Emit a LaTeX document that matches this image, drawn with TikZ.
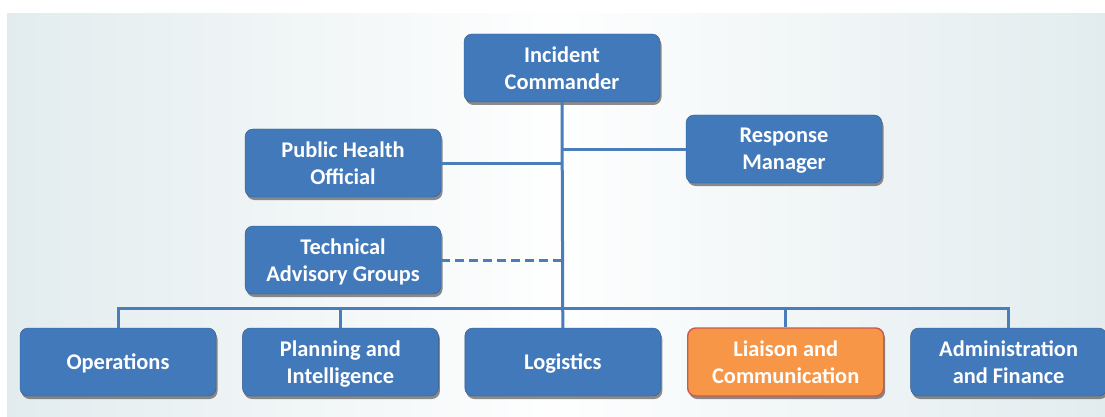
\documentclass[tikz,border=0pt]{standalone}
\usepackage{fontspec}
\setmainfont{Carlito}
\usepackage{xcolor}
\usepackage{tikz}
\usetikzlibrary{positioning,shadows}

\definecolor{boxblue}{RGB}{66,121,187}
\definecolor{lineblue}{RGB}{74,126,187}
\definecolor{boxorange}{RGB}{247,150,70}
\definecolor{edgered}{RGB}{200,90,80}
\definecolor{panelside}{RGB}{226,236,238}

\begin{document}
\begin{tikzpicture}[x=1pt, y=-1pt,
		rolenode/.style={rectangle, rounded corners=8pt, fill=boxblue, draw=boxblue!75!black, thin,
			text=white, font=\fontsize{22.4}{27}\selectfont\bfseries, align=center,
			minimum width=196pt, minimum height=68pt, text depth=-5pt,
			drop shadow={shadow xshift=1.5pt, shadow yshift=-3pt, opacity=0.6, fill=black!75}},
		hotnode/.style={rolenode, fill=boxorange, draw=edgered, line width=1.4pt},
		link/.style={draw=lineblue, line width=3pt},
		dashlink/.style={link, dash pattern=on 9pt off 5pt},
	]

		% background panel
		\useasboundingbox (0,0) rectangle (1105,417);
		\fill[white] (0,0) rectangle (1105,417);
		\shade[left color=panelside, right color=panelside, middle color=white!96!panelside] (7,14) rectangle (1105,417);

		% nodes
		\node[rolenode] (cmd) at (562,68)  {Incident\\Commander};
		\node[rolenode] (pho) at (343,163) {Public Health\\Official};
		\node[rolenode] (rsp) at (784,149) {Response\\Manager};
		\node[rolenode] (tag) at (343,260) {Technical\\Advisory Groups};

		\node[rolenode] (ops) at (118,362)           {Operations};
		\node[rolenode] (pln) [right=26pt of ops]    {Planning and\\Intelligence};
		\node[rolenode] (log) [right=26pt of pln]    {Logistics};
		\node[hotnode]  (lia) [right=26pt of log]    {Liaison and\\Communication};
		\node[rolenode] (adm) [right=26pt of lia]    {Administration\\and Finance};

		\coordinate (bus) at (562,308);

		% lines
		\draw[link] (cmd.south) -- (log.north);
		\draw[link] (pho.east) -- (pho.east -| cmd.south);
		\draw[link] (rsp.west) -- (rsp.west -| cmd.south);
		\draw[dashlink] (tag.east) -- (tag.east -| cmd.south);
		\draw[link] (ops.north) |- (bus) -| (adm.north);
		\draw[link] (pln.north) -- (pln.north |- bus);
		\draw[link] (lia.north) -- (lia.north |- bus);

	\end{tikzpicture}
\end{document}
